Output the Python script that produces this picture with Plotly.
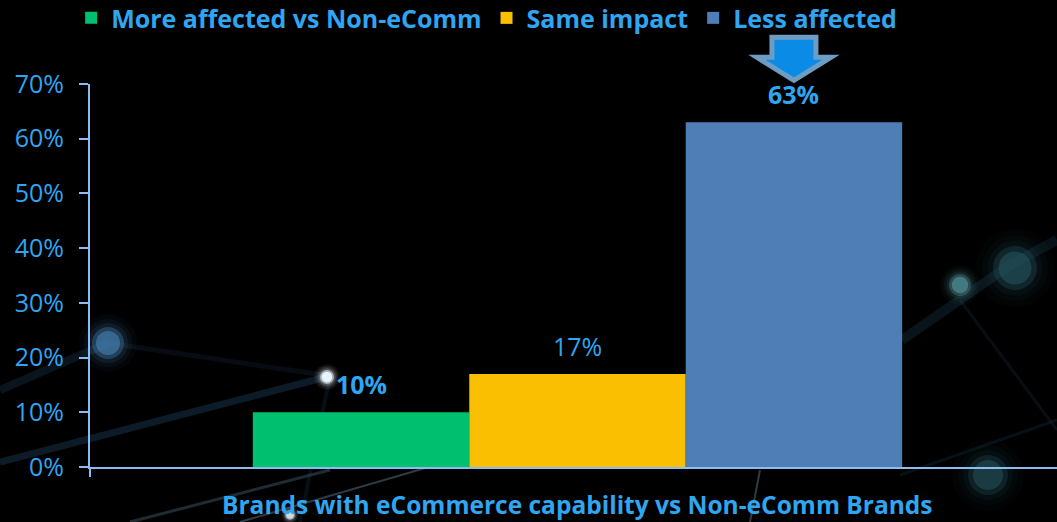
import plotly.graph_objects as go

# Survey share of brands by how they were affected
category = "Brands with eCommerce capability vs Non-eComm Brands"
series_names = ["More affected vs Non-eComm", "Same impact", "Less affected"]
series_values = [0.10, 0.17, 0.63]
series_colors = ["#00BF6F", "#F9BF00", "#4F7DB5"]
label_bold = [True, False, True]
y_tick_values = [0, 0.1, 0.2, 0.3, 0.4, 0.5, 0.6, 0.7]
y_tick_labels = ["0%", "10%", "20%", "30%", "40%", "50%", "60%", "70%"]

W, H = 1057, 522
M_L, M_R, M_T, M_B = 90, 0, 84, 55
BARGAP = 0.334
X_RANGE = [-0.5, 0.4918]
Y_MAX = 0.7

TEXT_BLUE = "#2FA6F2"
AXIS_BLUE = "#8DBDF0"
FONT = "Open Sans, Noto Sans, sans-serif"

fig = go.Figure()
for name, val, col in zip(series_names, series_values, series_colors):
    fig.add_trace(go.Bar(
        x=[0], y=[val], name=name, marker=dict(color=col, line=dict(width=0)),
        hoverinfo="skip",
    ))

# bar centres inside the group
n = len(series_values)
bw = (1 - BARGAP) / n
centers = [-(1 - BARGAP) / 2 + bw * (i + 0.5) for i in range(n)]

annotations = []
for cx, val, bold in zip(centers, series_values, label_bold):
    txt = f"{round(val * 100)}%"
    annotations.append(dict(
        x=cx, y=val, xref="x", yref="y", text=f"<b>{txt}</b>" if bold else txt,
        showarrow=False, yshift=28,
        font=dict(family=FONT, size=25, color=TEXT_BLUE),
    ))

annotations.append(dict(
    x=0, xref="x", y=-0.098, yref="paper", yanchor="middle",
    text=f"<b>{category}</b>", showarrow=False,
    font=dict(family=FONT, size=24.5, color=TEXT_BLUE),
))

plot_h = H - M_T - M_B
plot_w = W - M_L - M_R


def px(x):
    return (x - M_L) / plot_w


def py(y):
    return (H - M_B - y) / plot_h


shapes = []

# soft background light streaks
streaks = [
    ((0, 462), (330, 376), 7, "rgba(40,90,130,0.30)"),
    ((0, 390), (108, 343), 8, "rgba(40,90,130,0.22)"),
    ((108, 343), (330, 376), 5, "rgba(40,80,120,0.15)"),
    ((130, 522), (330, 470), 3, "rgba(120,170,200,0.25)"),
    ((240, 522), (470, 455), 2, "rgba(150,200,220,0.30)"),
    ((330, 376), (300, 522), 4, "rgba(30,70,100,0.22)"),
    ((900, 475), (1057, 420), 3, "rgba(40,90,110,0.18)"),
    ((902, 340), (1010, 265), 10, "rgba(30,80,100,0.25)"),
    ((1010, 265), (1057, 240), 10, "rgba(30,80,100,0.22)"),
    ((960, 300), (1057, 430), 3, "rgba(30,70,90,0.22)"),
    ((750, 522), (760, 470), 2, "rgba(150,200,220,0.30)"),
]
for (x0, y0), (x1, y1), w, c in streaks:
    shapes.append(dict(type="line", xref="paper", yref="paper", layer="below",
                       x0=px(x0), y0=py(y0), x1=px(x1), y1=py(y1),
                       line=dict(color=c, width=w)))

# glowing nodes, built from stacked translucent discs
glows = [
    (108, 343, 16, (70, 130, 180), 0.6),
    (327, 377, 7, (235, 245, 255), 0.95),
    (960, 285, 11, (90, 160, 170), 0.55),
    (1015, 268, 22, (40, 90, 100), 0.5),
    (988, 475, 20, (40, 90, 100), 0.45),
    (290, 515, 5, (220, 235, 245), 0.8),
]
for gx, gy, r, (cr, cg, cb), a in glows:
    for scale, f in [(1.8, 0.08), (1.5, 0.12), (1.25, 0.2), (1.0, 0.6), (0.75, 1.0)]:
        rr = r * scale
        shapes.append(dict(type="circle", xref="paper", yref="paper", layer="below",
                           x0=px(gx - rr), x1=px(gx + rr), y0=py(gy + rr), y1=py(gy - rr),
                           fillcolor=f"rgba({cr},{cg},{cb},{a * f:.3f})",
                           line=dict(width=0)))

# down arrow pointing at the largest share
hi = series_values.index(max(series_values))
arrow_path = ("M -22 85 L 22 85 L 22 65 L 37 65 L 0 42 "
              "L -37 65 L -22 65 Z")
shapes.append(dict(
    type="path", xref="x", yref="paper",
    xsizemode="pixel", ysizemode="pixel",
    xanchor=centers[hi], yanchor=series_values[hi] / Y_MAX,
    path=arrow_path, fillcolor="#0A8BE6",
    line=dict(color="#6E9DC4", width=5), layer="above",
))

fig.update_layout(
    width=W, height=H,
    margin=dict(l=M_L, r=M_R, t=M_T, b=M_B, autoexpand=False),
    paper_bgcolor="#000000", plot_bgcolor="rgba(0,0,0,0)",
    barmode="group", bargap=BARGAP, bargroupgap=0,
    showlegend=True,
    legend=dict(orientation="h", x=-0.0195, xanchor="left", y=1.172, yanchor="middle",
                font=dict(family=FONT, size=25, color=TEXT_BLUE, weight="bold"),
                bgcolor="rgba(0,0,0,0)", itemclick=False, itemdoubleclick=False),
    xaxis=dict(range=X_RANGE, showgrid=False, zeroline=False,
               showline=True, linecolor=AXIS_BLUE, linewidth=2,
               tickvals=[-0.5], ticktext=[""], ticks="outside", ticklen=8,
               tickcolor=AXIS_BLUE, tickwidth=2),
    yaxis=dict(range=[0, Y_MAX], tickvals=y_tick_values, ticktext=y_tick_labels,
               showgrid=False, zeroline=False, showline=True,
               linecolor=AXIS_BLUE, linewidth=2, ticks="outside", ticklen=9,
               tickcolor=AXIS_BLUE, tickwidth=2, ticklabelstandoff=10,
               tickfont=dict(family=FONT, size=25, color=TEXT_BLUE)),
    annotations=annotations,
    shapes=shapes,
)

fig.write_html("out.html")
